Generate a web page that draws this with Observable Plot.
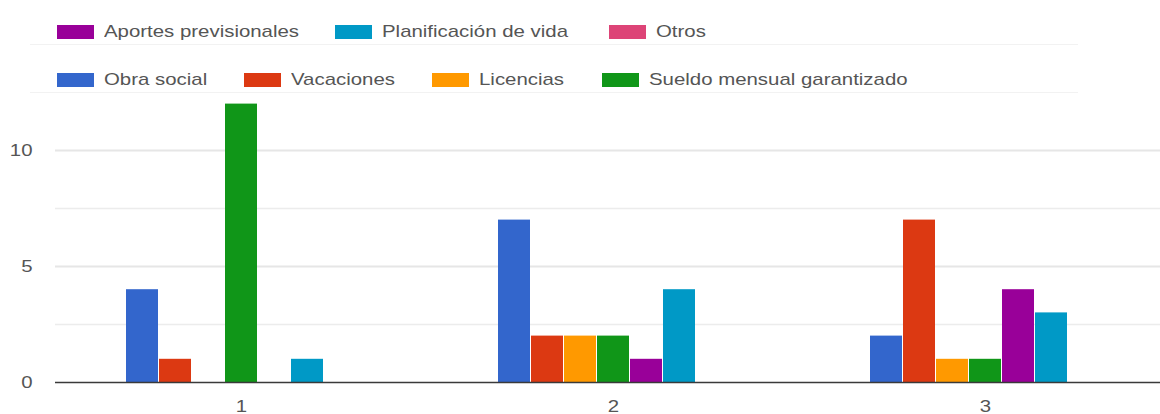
<!DOCTYPE html>
<html>
<head>
<meta charset="utf-8">
<script src="https://cdn.jsdelivr.net/npm/d3@7"></script>
<script src="https://cdn.jsdelivr.net/npm/@observablehq/plot@0.6"></script>
<style>
  html, body { margin: 0; padding: 0; background: #fff; }
  #wrap { width: 1160px; height: 414px; position: relative; overflow: hidden; font-family: "Liberation Sans", Arial, sans-serif; }
  #legend { position: relative; width: 1160px; height: 95px; }
  .sw { position: absolute; width: 37px; height: 14px; }
  .lt { position: absolute; font-size: 17px; line-height: 20px; color: #555; white-space: nowrap; transform: scaleX(1.2); transform-origin: left center; }
  .rule { position: absolute; height: 1px; background: #f2f2f2; }
  svg { display: block; }
</style>
</head>
<body>
<div id="wrap">
  <div id="legend"></div>
  <div id="chart"></div>
</div>
<script>
// ---- data ----
const groups = ["1", "2", "3"];
const series = ["Obra social", "Vacaciones", "Licencias", "Sueldo mensual garantizado", "Aportes previsionales", "Planificación de vida", "Otros"];
const colors = ["#3366cc", "#dc3912", "#ff9900", "#109618", "#990099", "#0099c6", "#dd4477"];
const obraSocial   = [4, 7, 2];
const vacaciones   = [1, 2, 7];
const licencias    = [0, 2, 1];
const sueldo       = [12, 2, 1];
const aportes      = [0, 1, 4];
const planificacion = [1, 4, 3];
const otros        = [0, 0, 0];
const yTicks = [0, 5, 10];
const yMinorTicks = [2.5, 7.5];

const valuesBySeries = [obraSocial, vacaciones, licencias, sueldo, aportes, planificacion, otros];
const data = [];
groups.forEach((g, gi) => series.forEach((s, si) => data.push({group: g, series: s, value: valuesBySeries[si][gi]})));

// ---- legend (two rows, Google Charts style) ----
const legendRows = [
  [{s: "Aportes previsionales", x: 57}, {s: "Planificación de vida", x: 335}, {s: "Otros", x: 609}],
  [{s: "Obra social", x: 57}, {s: "Vacaciones", x: 244}, {s: "Licencias", x: 432}, {s: "Sueldo mensual garantizado", x: 602}]
];
const rowTops = [25, 73];
const legend = document.getElementById("legend");
legendRows.forEach((row, ri) => {
  const r = document.createElement("div");
  r.className = "rule";
  r.style.left = "30px"; r.style.width = "1048px"; r.style.top = (rowTops[ri] + 19) + "px";
  legend.appendChild(r);
  row.forEach(item => {
    const sw = document.createElement("div");
    sw.className = "sw";
    sw.style.left = item.x + "px";
    sw.style.top = rowTops[ri] + "px";
    sw.style.background = colors[series.indexOf(item.s)];
    legend.appendChild(sw);
    const t = document.createElement("div");
    t.className = "lt";
    t.style.left = (item.x + 47) + "px";
    t.style.top = (rowTops[ri] - 3) + "px";
    t.textContent = item.s;
    legend.appendChild(t);
  });
});

// ---- chart ----
const chart = Plot.plot({
  width: 1160,
  height: 319,
  marginLeft: 54,
  marginRight: -11,
  marginTop: 0,
  marginBottom: 32,
  style: {fontFamily: "Liberation Sans, Arial, sans-serif", fontSize: "17px", color: "#555", background: "#fff"},
  fx: {domain: groups, paddingInner: 0, paddingOuter: 0, label: null},
  x: {domain: series, paddingInner: 0.03, paddingOuter: 2.1, axis: null},
  y: {domain: [0, 10], range: [287, 55], label: null},
  color: {domain: series, range: colors},
  marks: [
    Plot.gridY(yMinorTicks, {stroke: "#ececec", strokeOpacity: 1, strokeWidth: 1.5}),
    Plot.gridY(yTicks.filter(d => d !== 0), {stroke: "#e6e6e6", strokeOpacity: 1, strokeWidth: 2}),
    Plot.axisY(yTicks, {tickSize: 0, tickPadding: 23, label: null, fill: "#555"}),
    Plot.barY(data, {fx: "group", x: "series", y: "value", fill: "series"}),
    Plot.ruleY([0], {stroke: "#3a3a3a", strokeWidth: 1.5}),
    Plot.axisFx({anchor: "bottom", tickSize: 0, tickPadding: 17, label: null, fill: "#555"})
  ]
});
document.getElementById("chart").appendChild(chart);
// stretch tick labels horizontally like the reference
d3.select(chart).selectAll("g[aria-label$='tick label'] text").each(function () {
  const tr = this.getAttribute("transform") || "";
  this.setAttribute("transform", tr + " scale(1.2,1)");
});
</script>
</body>
</html>
